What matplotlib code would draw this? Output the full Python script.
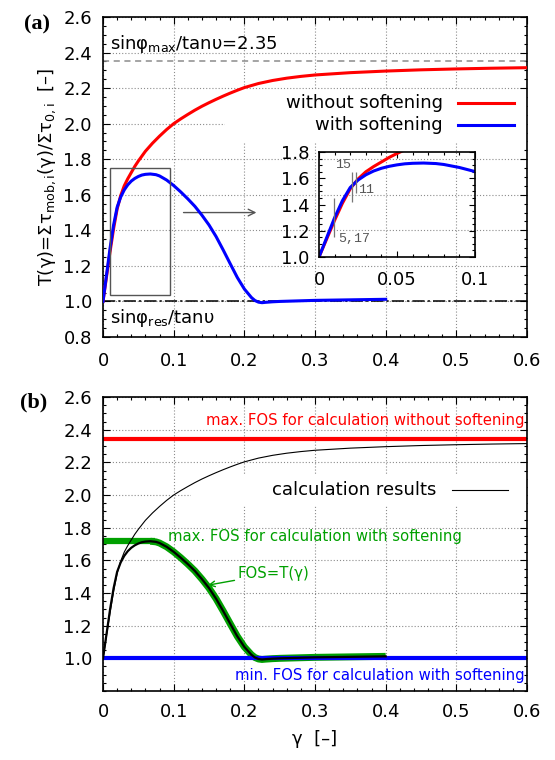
import matplotlib
matplotlib.use('Agg')
import matplotlib.pyplot as plt
import numpy as np
from matplotlib.ticker import MultipleLocator, FuncFormatter
from matplotlib.patches import Rectangle

# ---------------------------------------------------------------------------
# Data
# ---------------------------------------------------------------------------
gamma_nosoft = [0, 0.005, 0.01, 0.015, 0.02, 0.025, 0.03, 0.035, 0.04, 0.045,
                0.05, 0.06, 0.07, 0.08, 0.09, 0.1, 0.11, 0.12, 0.13, 0.14,
                0.15, 0.16, 0.17, 0.18, 0.19, 0.2, 0.22, 0.24, 0.26, 0.28,
                0.3, 0.35, 0.4, 0.45, 0.5, 0.55, 0.6]
T_nosoft = [1.0, 1.14, 1.28, 1.41, 1.52, 1.595, 1.65, 1.69, 1.725, 1.76,
            1.79, 1.845, 1.89, 1.93, 1.967, 2.0, 2.027, 2.052, 2.076, 2.098,
            2.118, 2.137, 2.155, 2.172, 2.188, 2.203, 2.226, 2.243, 2.256, 2.266,
            2.274, 2.287, 2.296, 2.303, 2.308, 2.312, 2.315]

gamma_soft = [0, 0.005, 0.01, 0.015, 0.02, 0.025, 0.03, 0.035, 0.04, 0.045,
              0.05, 0.055, 0.06, 0.067, 0.075, 0.08, 0.09, 0.1, 0.11, 0.12,
              0.13, 0.14, 0.15, 0.16, 0.17, 0.18, 0.19, 0.2, 0.21, 0.215,
              0.22, 0.225, 0.23, 0.24, 0.25, 0.3, 0.35, 0.4]
T_soft = [1.0, 1.15, 1.30, 1.43, 1.53, 1.587, 1.627, 1.656, 1.677, 1.692,
          1.703, 1.711, 1.715, 1.717, 1.713, 1.706, 1.683, 1.652, 1.616, 1.577,
          1.535, 1.485, 1.43, 1.365, 1.29, 1.212, 1.135, 1.07, 1.022, 1.005,
          0.996, 0.993, 0.995, 0.998, 1.0, 1.006, 1.009, 1.012]

RATIO_MAX = 2.35        # sin(phi_max)/tan(nu)
RATIO_RES = 1.0         # sin(phi_res)/tan(nu)
FOS_MAX_NOSOFT = 2.34
FOS_MIN_SOFT = 1.0

# inset markers (gamma position, y from, y to) and labels
marker_x = [0.0098, 0.021, 0.0237]
marker_y0 = [1.156, 1.42, 1.485]
marker_y1 = [1.447, 1.649, 1.65]
marker_labels = ['15', '11', '5,17']
marker_label_x = [0.0103, 0.025, 0.0124]
marker_label_y = [1.70, 1.51, 1.14]

# ---------------------------------------------------------------------------
# Style
# ---------------------------------------------------------------------------
plt.rcParams['font.family'] = ['DejaVu Sans']
FS = 13
RED = '#ff0000'
BLUE = '#0000ff'
GREEN = '#00a000'
GRID = dict(color='#8c8c8c', linestyle=(0, (1, 1.8)), linewidth=0.8)

fig = plt.figure(figsize=(5.55, 7.6), dpi=100)
ax_a = fig.add_axes([0.1856, 0.5566, 0.764, 0.421])
ax_b = fig.add_axes([0.1856, 0.0908, 0.764, 0.3868])

fmt = FuncFormatter(lambda v, p: '%g' % v)


def style_axes(ax, xpad, ypad):
    ax.set_xlim(0, 0.6)
    ax.set_ylim(0.8, 2.6)
    ax.xaxis.set_major_locator(MultipleLocator(0.1))
    ax.xaxis.set_minor_locator(MultipleLocator(0.02))
    ax.yaxis.set_major_locator(MultipleLocator(0.2))
    ax.yaxis.set_minor_locator(MultipleLocator(0.05))
    ax.xaxis.set_major_formatter(fmt)
    ax.yaxis.set_major_formatter(FuncFormatter(lambda v, p: '%.1f' % v))
    ax.tick_params(which='both', direction='in', top=True, right=True,
                   labelsize=FS, width=0.8)
    ax.tick_params(which='major', length=5)
    ax.tick_params(which='minor', length=2.5)
    ax.tick_params(axis='x', pad=xpad)
    ax.tick_params(axis='y', pad=ypad)
    ax.set_axisbelow(True)
    ax.grid(True, which='major', **GRID)
    for s in ax.spines.values():
        s.set_linewidth(1.2)


# ---------------------------------------------------------------------------
# Panel (a)
# ---------------------------------------------------------------------------
style_axes(ax_a, 11, 8)
ax_a.add_patch(Rectangle((0.172, 1.89), 0.428, 0.30, facecolor='white',
                         edgecolor='none', zorder=1))
ax_a.axhline(RATIO_MAX, color='#8c8c8c', linestyle=(0, (4, 3)), lw=1.1, zorder=2)
ax_a.axhline(RATIO_RES, color='black', linestyle=(0, (8, 2, 1.5, 2)), lw=1.1, zorder=2)
ax_a.plot(gamma_nosoft, T_nosoft, color=RED, lw=2.2, zorder=3)
ax_a.plot(gamma_soft, T_soft, color=BLUE, lw=2.2, zorder=4)

ax_a.add_patch(Rectangle((0.01, 1.034), 0.085, 0.716, facecolor='none',
                         edgecolor='#555555', lw=1.0, zorder=5))
ax_a.annotate('', xy=(0.221, 1.5), xytext=(0.11, 1.5),
              arrowprops=dict(arrowstyle='->', color='#555555', lw=1.0,
                              mutation_scale=12))

ax_a.text(0.01, 2.45, 'sinφ$_{\\mathregular{max}}$/tanυ=2.35', fontsize=FS,
          ha='left', va='center')
ax_a.text(0.01, 0.905, 'sinφ$_{\\mathregular{res}}$/tanυ', fontsize=FS,
          ha='left', va='center')

# key
ax_a.text(0.481, 2.116, 'without softening', fontsize=FS, ha='right', va='center')
ax_a.plot([0.502, 0.582], [2.116, 2.116], color=RED, lw=2.2)
ax_a.text(0.481, 1.99, 'with softening', fontsize=FS, ha='right', va='center')
ax_a.plot([0.502, 0.582], [1.99, 1.99], color=BLUE, lw=2.2)

ax_a.set_ylabel('Τ(γ)=Στ$_{\\mathregular{mob,i}}$(γ)/Στ$_{\\mathregular{0,i}}$  [–]',
                fontsize=FS, labelpad=4)

fig.text(0.066, 0.968, '(a)', fontsize=16, fontweight='bold',
         family='Liberation Serif', ha='center', va='center')

# inset
ax_in = fig.add_axes([0.5748, 0.6618, 0.281, 0.138])
ax_in.set_facecolor('none')
ax_in.set_xlim(0, 0.1)
ax_in.set_ylim(1.0, 1.8)
ax_in.xaxis.set_major_locator(MultipleLocator(0.05))
ax_in.xaxis.set_minor_locator(MultipleLocator(0.01))
ax_in.yaxis.set_major_locator(MultipleLocator(0.2))
ax_in.yaxis.set_minor_locator(MultipleLocator(0.05))
ax_in.xaxis.set_major_formatter(fmt)
ax_in.yaxis.set_major_formatter(FuncFormatter(lambda v, p: '%.1f' % v))
ax_in.tick_params(which='both', direction='in', top=True, right=True,
                  labelsize=FS, width=0.8)
ax_in.tick_params(which='major', length=4)
ax_in.tick_params(which='minor', length=2)
ax_in.tick_params(axis='x', pad=10)
ax_in.tick_params(axis='y', pad=7)
for s in ax_in.spines.values():
    s.set_linewidth(1.2)
ax_in.plot(gamma_nosoft, T_nosoft, color=RED, lw=2.2, clip_on=True)
ax_in.plot(gamma_soft, T_soft, color=BLUE, lw=2.2, clip_on=True)
ax_in.vlines(marker_x, marker_y0, marker_y1, color='#777777', lw=0.9)
for lab, lx, ly in zip(marker_labels, marker_label_x, marker_label_y):
    ax_in.text(lx, ly, lab, fontsize=9.5, family='Liberation Mono',
               color='#555555', ha='left', va='center')

# ---------------------------------------------------------------------------
# Panel (b)
# ---------------------------------------------------------------------------
style_axes(ax_b, 9, 8)
ax_b.set_yticks([1.0, 1.2, 1.4, 1.6, 1.8, 2.0, 2.2, 2.4, 2.6])
ax_b.add_patch(Rectangle((0.125, 1.93), 0.475, 0.19, facecolor='white',
                         edgecolor='none', zorder=1))

peak = int(np.argmax(T_soft))
ax_b.hlines(T_soft[peak], 0, gamma_soft[peak] + 0.006, color=GREEN, lw=4.5, zorder=2)
ax_b.plot(gamma_soft[peak:], T_soft[peak:], color=GREEN, lw=5, zorder=2,
          solid_capstyle='butt')
ax_b.axhline(FOS_MAX_NOSOFT, color=RED, lw=3, zorder=2)
ax_b.axhline(FOS_MIN_SOFT, color=BLUE, lw=3, zorder=2)
ax_b.plot(gamma_nosoft, T_nosoft, color='black', lw=0.8, zorder=3)
ax_b.plot(gamma_soft, T_soft, color='black', lw=1.6, zorder=3)

ax_b.text(0.597, 2.459, 'max. FOS for calculation without softening',
          fontsize=10.7, color=RED, ha='right', va='center')
ax_b.text(0.092, 1.743, 'max. FOS for calculation with softening',
          fontsize=10.7, color=GREEN, ha='left', va='center')
ax_b.text(0.597, 0.894, 'min. FOS for calculation with softening',
          fontsize=10.7, color=BLUE, ha='right', va='center')
ax_b.annotate('FOS=Τ(γ)', xy=(0.1485, 1.448), xytext=(0.19, 1.52),
              fontsize=10.7, color=GREEN, ha='left', va='center',
              arrowprops=dict(arrowstyle='->', color=GREEN, lw=1.0,
                              shrinkA=0, shrinkB=0, mutation_scale=10))

ax_b.text(0.472, 2.03, 'calculation results', fontsize=FS, ha='right', va='center')
ax_b.plot([0.494, 0.573], [2.03, 2.03], color='black', lw=0.8)

ax_b.set_xlabel('γ  [–]', fontsize=FS, labelpad=6)

fig.text(0.06, 0.471, '(b)', fontsize=16, fontweight='bold',
         family='Liberation Serif', ha='center', va='center')

fig.savefig('out.png', dpi=100)
